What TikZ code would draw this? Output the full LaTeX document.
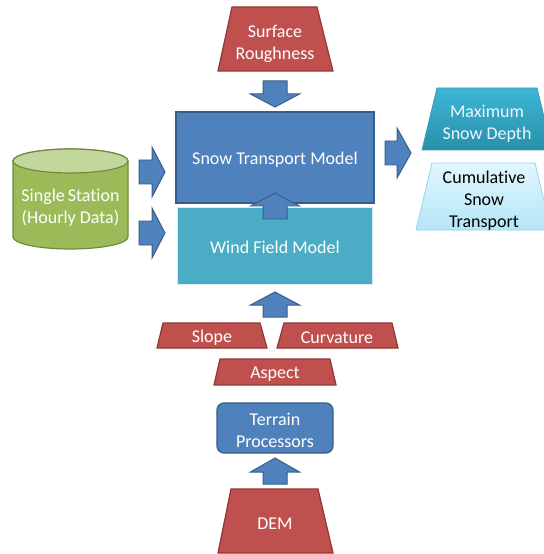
\documentclass[tikz,border=0pt]{standalone}
\usepackage{fontspec}
\setmainfont[Ligatures=CommonOff]{Carlito}
\definecolor{redf}{HTML}{C0504D}
\definecolor{redd}{HTML}{8C3836}
\definecolor{bluef}{HTML}{4F81BD}
\definecolor{blued}{HTML}{385D8A}
\definecolor{aquaf}{HTML}{4BACC6}
\definecolor{aquab}{HTML}{D8EEF4}
\definecolor{greenf}{HTML}{9BBB59}
\definecolor{greentop}{HTML}{C3D69B}
\definecolor{greend}{HTML}{71893F}
\definecolor{maxtop}{HTML}{3DB6D6}
\definecolor{maxbot}{HTML}{2790AB}
\definecolor{cumtop}{HTML}{E2F6FD}
\definecolor{cumbot}{HTML}{B5E6F7}
\definecolor{cumd}{HTML}{8FD6EC}
\newcommand\mytrap[7]{\path[#1] (#4,#2) -- (#5,#2) -- (#7,#3) -- (#6,#3) -- cycle;}
\newcommand\blkup[4]{\draw[blk] (#1,#2) -- (#1+24.5,#3) -- (#1+12,#3) -- (#1+12,#4) -- (#1-12,#4) -- (#1-12,#3) -- (#1-24.5,#3) -- cycle;}
\newcommand\blkright[4]{\draw[blk] (#2,#1) -- (#3,#1-25) -- (#3,#1-12) -- (#4,#1-12) -- (#4,#1+12) -- (#3,#1+12) -- (#3,#1+25) -- cycle;}
\begin{document}
\begin{tikzpicture}[x=1bp,y=-1bp,
  lbl/.style={font=\fontsize{18bp}{22bp}\selectfont, text=white, align=center, inner sep=0pt},
  redtrap/.style={fill=redf, draw=redd, line width=1.2pt},
  blk/.style={fill=bluef, draw=blued, line width=1pt, line join=miter},
  bluebox/.style={fill=bluef, draw=blued, line width=1.2pt}]
\useasboundingbox (0,0) rectangle (544,554);
% Surface roughness
\mytrap{redtrap}{7}{71}{232}{317}{218}{333}
\node[lbl] (sr) at (275,44) {Surface\\Roughness};
\blkup{275}{107}{94}{81}
% Snow transport model
\draw[bluebox] (176,112) rectangle (374,203);
\node[lbl] (stm) at (275,160) {Snow Transport Model};
% Wind field model
\draw[fill=aquaf, draw=aquab, line width=1pt] (177,207) rectangle (372,284);
\node[lbl] (wfm) at (275,247) {Wind Field Model};
\blkup{275}{193}{206}{219}
% cylinder
\draw[fill=greenf, draw=greend, line width=1.2pt] (13,161) -- (13,237)
  arc[start angle=180, end angle=360, x radius=57.5bp, y radius=12bp] -- (128,161)
  arc[start angle=0, end angle=180, x radius=57.5bp, y radius=12bp] -- cycle;
\draw[fill=greentop, draw=greend, line width=1.2pt] (70.5,161) ellipse [x radius=57.5bp, y radius=12bp];
\node[lbl] (ss) at (70.5,208) {Single\,Station\\(Hourly Data)};
\blkright{172}{165}{152}{139}
\blkright{233}{165}{152}{139}
% outputs
\blkright{153}{411}{397}{385}
\mytrap{top color=maxtop, bottom color=maxbot, draw=maxbot!90!white, line width=0.8pt}{88}{150}{437}{537}{422}{552}
\node[lbl, text=white!92!cyan] (msd) at (487,124) {Maximum\\Snow Depth};
\mytrap{top color=cumtop, bottom color=cumbot, draw=cumd, line width=0.8pt}{163}{230}{432}{535}{416}{551}
\node[lbl, text=black] (cst) at (484,201) {Cumulative\\Snow\\Transport};
% terrain inputs
\blkup{275}{292}{305}{317}
\mytrap{redtrap}{323}{348}{163}{260}{157}{267}
\node[lbl] (slope) at (212,338) {Slope};
\mytrap{redtrap}{323}{348}{284}{392}{277}{398}
\node[lbl] (curv) at (337,338) {Curvature};
\mytrap{redtrap}{359}{385}{220}{330}{214}{336}
\node[lbl] (asp) at (275,374) {Aspect};
% terrain processors
\draw[bluebox, rounded corners=7bp] (217,403) rectangle (333,453);
\node[lbl] (tp) at (275,430) {Terrain\\Processors};
\blkup{275}{458}{472}{484}
\mytrap{redtrap}{489}{553}{231}{318}{218}{333}
\node[lbl] (dem) at (275,524) {DEM};
\end{tikzpicture}
\end{document}
